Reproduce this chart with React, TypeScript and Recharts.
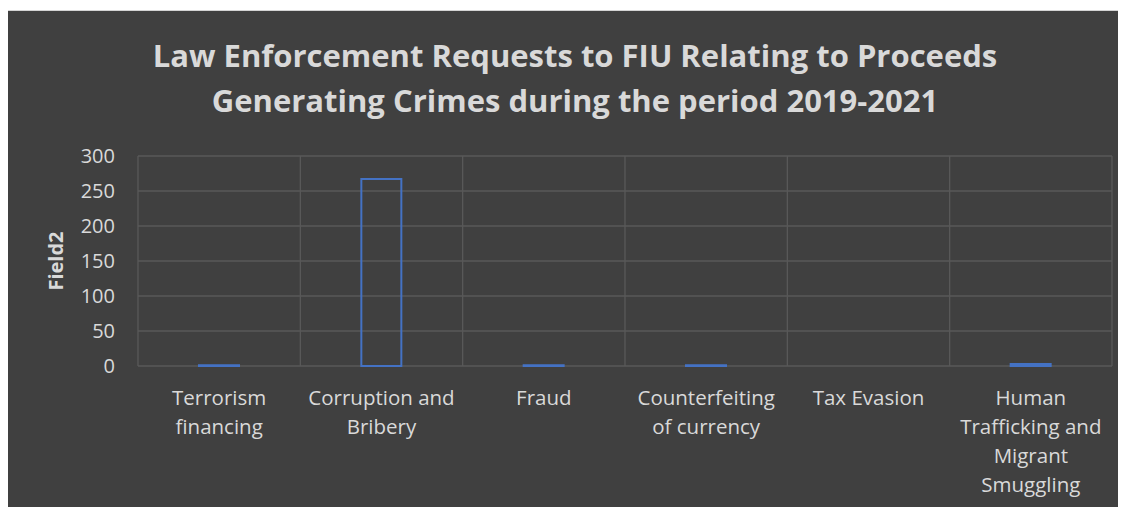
import React from 'react';
import { BarChart, Bar, XAxis, YAxis, CartesianGrid, Label } from 'recharts';

const titleLines = [
  'Law Enforcement Requests to FIU Relating to Proceeds',
  'Generating Crimes during the period 2019-2021',
];

const categories = [
  'Terrorism financing',
  'Corruption and Bribery',
  'Fraud',
  'Counterfeiting of currency',
  'Tax Evasion',
  'Human Trafficking and Migrant Smuggling',
];

// wrapped the way the original chart wraps them
const tickLines = [
  ['Terrorism', 'financing'],
  ['Corruption and', 'Bribery'],
  ['Fraud'],
  ['Counterfeiting', 'of currency'],
  ['Tax Evasion'],
  ['Human', 'Trafficking and', 'Migrant', 'Smuggling'],
];

const values = [1, 267, 1, 1, 0, 3];

const yTicks = [0, 50, 100, 150, 200, 250, 300];

const FONT = '"Open Sans", "Noto Sans", sans-serif';
const TEXT = '#d9d9d9';
const GRID = '#595959';
const BLUE = '#4472c4';

const W = 1118;
const H = 496;

const data = categories.map((name, i) => ({ name, value: values[i] }));

const CategoryTick = (props: any) => {
  const { x, y, payload } = props;
  const lines = tickLines[payload.index] || [payload.value];
  return (
    <text x={x} y={y} textAnchor="middle" fill={TEXT} fontSize={20.5} fontFamily={FONT}>
      {lines.map((line, i) => (
        <tspan key={i} x={x} dy={i === 0 ? 39 : 29}>{line}</tspan>
      ))}
    </text>
  );
};

const App: React.FC = () => {
  return (
    <div
      style={{
        position: 'relative',
        marginLeft: -1,
        marginTop: 2,
        width: W,
        height: H,
        background: '#404040',
        borderLeft: '1px solid #d4d4d4',
        borderTop: '1px solid #d4d4d4',
      }}
    >
      <BarChart
        width={W}
        height={H}
        data={data}
        margin={{ top: 145, right: 14, left: 0, bottom: 0 }}
        barSize={40}
      >
        <CartesianGrid
          stroke={GRID}
          strokeWidth={1.3}
          verticalCoordinatesGenerator={({ offset }: any) =>
            categories.map((_, i) => offset.left + (i * offset.width) / categories.length)
              .concat(offset.left + offset.width)
          }
        />
        <XAxis
          dataKey="name"
          interval={0}
          height={141}
          axisLine={false}
          tickLine={false}
          tickSize={0}
          tickMargin={0}
          tick={<CategoryTick />}
        />
        <YAxis
          width={130}
          domain={[0, 300]}
          ticks={yTicks}
          axisLine={false}
          tickLine={false}
          tickSize={0}
          tickMargin={23}
          tick={{ fill: TEXT, fontSize: 20, fontFamily: FONT }}
        >
          <Label
            value="Field2"
            angle={-90}
            position="center"
            dx={-17}
            style={{ fill: TEXT, fontSize: 20, fontWeight: 'bold', fontFamily: FONT }}
          />
        </YAxis>
        <Bar dataKey="value" fill="none" stroke={BLUE} strokeWidth={2} isAnimationActive={false} />
      </BarChart>
      <svg
        width={W}
        height={130}
        style={{ position: 'absolute', left: 0, top: 0, pointerEvents: 'none' }}
      >
        <text x={567} y={56} textAnchor="middle" fill={TEXT} fontSize={31} fontWeight="bold" fontFamily={FONT}>
          {titleLines[0]}
        </text>
        <text x={567} y={101} textAnchor="middle" fill={TEXT} fontSize={31} fontWeight="bold" fontFamily={FONT}>
          {titleLines[1]}
        </text>
      </svg>
    </div>
  );
};

export default App;
